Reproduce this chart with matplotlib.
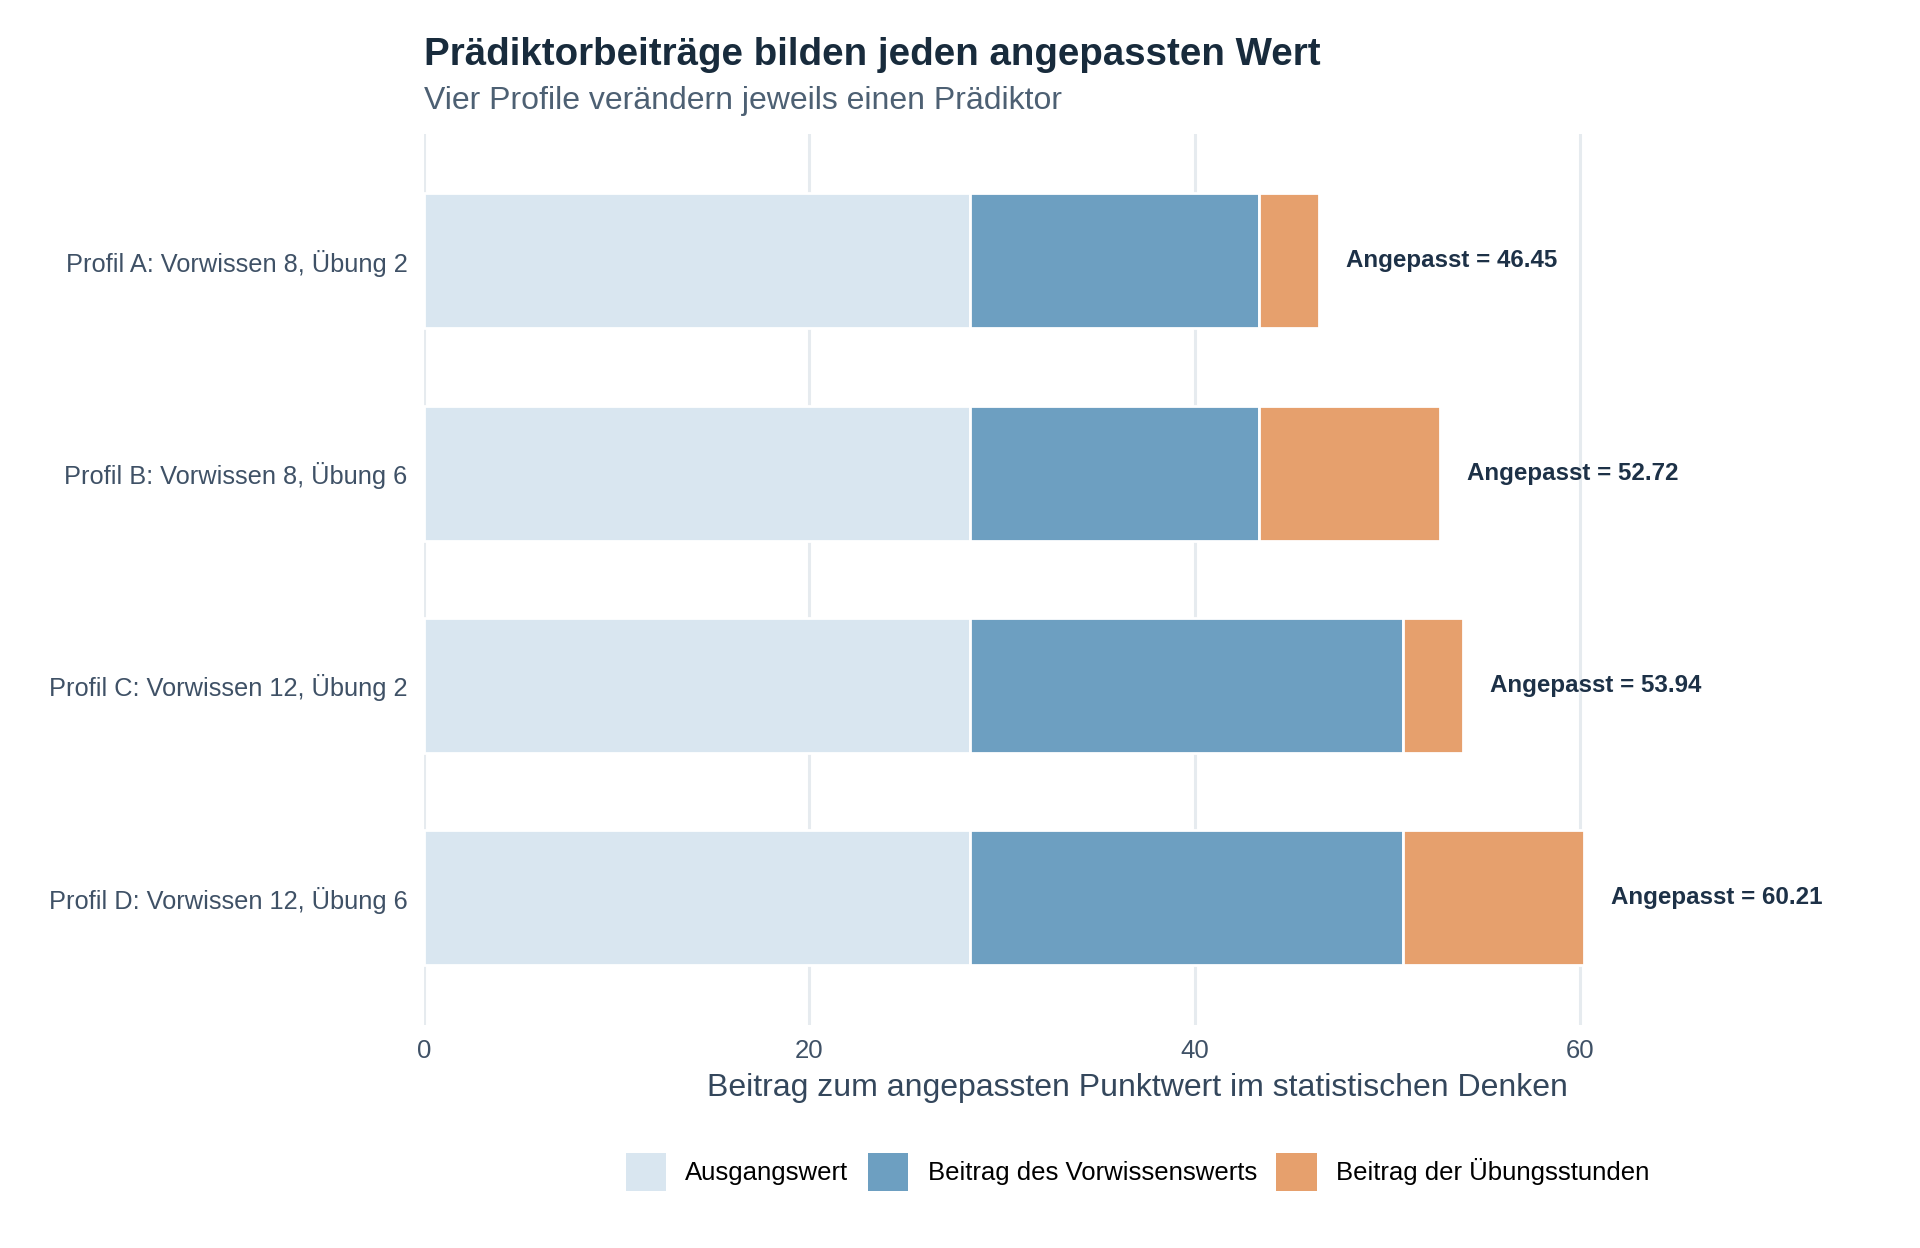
import matplotlib
matplotlib.use("Agg")
import matplotlib.pyplot as plt
from matplotlib.patches import Patch
import numpy as np

plt.rcParams['font.family'] = ['Liberation Sans', 'DejaVu Sans']

# data
profiles = ["Profil A: Vorwissen 8, Übung 2",
            "Profil B: Vorwissen 8, Übung 6",
            "Profil C: Vorwissen 12, Übung 2",
            "Profil D: Vorwissen 12, Übung 6"]
baseline = [28.34, 28.34, 28.34, 28.34]
vorwissen = [14.98, 14.98, 22.47, 22.47]
uebung = [3.13, 9.40, 3.13, 9.40]
fitted = [46.45, 52.72, 53.94, 60.21]
series_names = ["Ausgangswert", "Beitrag des Vorwissenswerts", "Beitrag der Übungsstunden"]
colors = ["#d9e6f0", "#6d9fc1", "#e6a06d"]
xticks = [0, 20, 40, 60]

fig = plt.figure(figsize=(19.2, 12.48), dpi=100)
ax = fig.add_axes([0.2208, 0.1787, 0.7437, 0.7143])

y = np.arange(len(profiles))[::-1] + 1
left = np.zeros(len(profiles))
for vals, name, col in zip([baseline, vorwissen, uebung], series_names, colors):
    ax.barh(y, vals, left=left, height=0.635, color=col, edgecolor="white",
            linewidth=2, label=name, zorder=2)
    left = left + np.array(vals)

for yi, tot, f in zip(y, left, fitted):
    ax.text(tot + 1.4, yi, "Angepasst = %.2f" % f, va="center", ha="left",
            fontsize=17.4, fontweight="bold", color="#1d3147")

ax.set_xlim(0, 74.1)
ax.set_ylim(0.4, 4.6)
ax.set_xticks(xticks)
ax.set_yticks(y)
ax.set_yticklabels(profiles)
ax.grid(axis="x", color="#e6ebef", linewidth=2.2, zorder=0)
ax.grid(axis="y", visible=False)
for s in ax.spines.values():
    s.set_visible(False)
ax.tick_params(axis="both", length=0, colors="#3f5166", labelsize=18.5)
ax.tick_params(axis="y", pad=12, labelsize=18.3)
ax.tick_params(axis="x", pad=10)
ax.set_xlabel("Beitrag zum angepassten Punktwert im statistischen Denken",
              fontsize=23, color="#34475c", labelpad=7.5)

fig.text(0.2208, 0.948, "Prädiktorbeiträge bilden jeden angepassten Wert",
         fontsize=27.7, fontweight="bold", color="#182b3c", ha="left", va="baseline")
fig.text(0.2208, 0.913, "Vier Profile verändern jeweils einen Prädiktor",
         fontsize=23, color="#4d6073", ha="left", va="baseline")

handles = [Patch(facecolor=c, edgecolor="none") for c in colors]
fig.legend(handles, series_names, loc="center", bbox_to_anchor=(0.5925, 0.061),
           ncol=3, frameon=False, fontsize=18.5, handlelength=1.56, handleheight=1.9,
           handletextpad=0.76, columnspacing=0.76)

fig.savefig("out.png", dpi=100, facecolor="white")
